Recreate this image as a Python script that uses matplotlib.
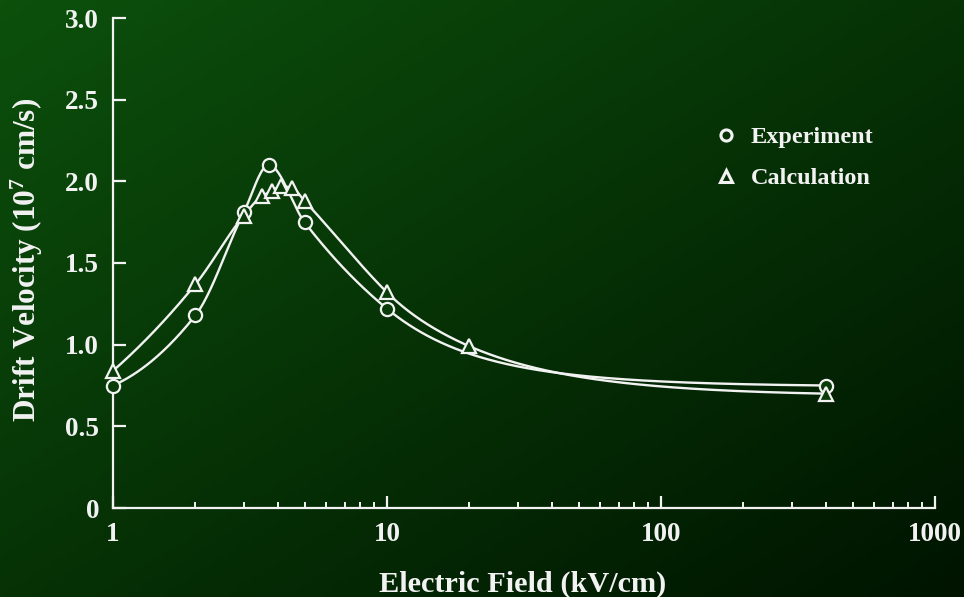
import numpy as np
import matplotlib
matplotlib.use("Agg")
import matplotlib.pyplot as plt
from matplotlib.lines import Line2D

# Drift velocity vs electric field
exp_field = [1, 2, 3, 3.7, 5, 10, 400]
exp_velocity = [0.75, 1.18, 1.81, 2.10, 1.75, 1.22, 0.75]

calc_field = [1, 2, 3, 3.5, 3.8, 4.1, 4.5, 5, 10, 20, 400]
calc_velocity = [0.84, 1.37, 1.79, 1.91, 1.94, 1.97, 1.96, 1.88, 1.32, 0.99, 0.70]

y_ticks = [0, 0.5, 1.0, 1.5, 2.0, 2.5, 3.0]
y_tick_labels = ["0", "0.5", "1.0", "1.5", "2.0", "2.5", "3.0"]
x_ticks = [1, 10, 100, 1000]
x_tick_labels = ["1", "10", "100", "1000"]

FG = "#f2f2f2"
FONT = "Liberation Serif"

plt.rcParams["mathtext.fontset"] = "custom"
plt.rcParams["mathtext.rm"] = "Liberation Serif:bold"
plt.rcParams["mathtext.default"] = "rm"


def warp(x):
    # log scale below 10 kV/cm, 1/E shape above (smooth join at 10)
    x = np.asarray(x, dtype=float)
    k = 0.4343
    return np.where(x <= 10, np.log10(x), 1 + k * (1 - 10 / x))


def pchip(w, y, wn):
    # monotone cubic (Fritsch-Carlson), used only for the connecting line
    w = np.asarray(w, float)
    y = np.asarray(y, float)
    h = np.diff(w)
    d = np.diff(y) / h
    n = len(w)
    m = np.zeros(n)
    for k in range(1, n - 1):
        if d[k - 1] * d[k] <= 0:
            m[k] = 0.0
        else:
            w1 = 2 * h[k] + h[k - 1]
            w2 = h[k] + 2 * h[k - 1]
            m[k] = (w1 + w2) / (w1 / d[k - 1] + w2 / d[k])
    # nearly straight start, like the hand-drawn curve
    m[0] = 2 * d[0] - m[1] if abs(2 * d[0] - m[1]) < abs(d[0]) else d[0]
    m[-1] = ((2 * h[-1] + h[-2]) * d[-1] - h[-1] * d[-2]) / (h[-1] + h[-2])
    if np.sign(m[-1]) != np.sign(d[-1]):
        m[-1] = 0
    idx = np.clip(np.searchsorted(w, wn) - 1, 0, n - 2)
    t = (wn - w[idx]) / h[idx]
    h00 = 2 * t**3 - 3 * t**2 + 1
    h10 = t**3 - 2 * t**2 + t
    h01 = -2 * t**3 + 3 * t**2
    h11 = t**3 - t**2
    return (h00 * y[idx] + h10 * h[idx] * m[idx]
            + h01 * y[idx + 1] + h11 * h[idx] * m[idx + 1])


def smooth(xs, ys):
    xn = np.logspace(np.log10(xs[0]), np.log10(xs[-1]), 600)
    return xn, pchip(warp(xs), ys, warp(xn))


fig = plt.figure(figsize=(9.64, 5.97), dpi=100)

# dark green diagonal gradient background
bg = fig.add_axes([0, 0, 1, 1], zorder=0)
gx, gy = np.meshgrid(np.linspace(0, 1, 200), np.linspace(0, 1, 120))
t = (gx + gy) / 2
c0 = np.array([12, 80, 12]) / 255
c1 = np.array([0, 20, 0]) / 255
img = c0[None, None, :] * (1 - t[..., None]) + c1[None, None, :] * t[..., None]
bg.imshow(img, aspect="auto", extent=[0, 1, 0, 1], origin="upper")
bg.axis("off")

ax = fig.add_axes([113 / 964, 1 - 508 / 597, (935 - 113) / 964, (508 - 18) / 597], zorder=1)
ax.patch.set_alpha(0)

ax.set_xscale("log")
ax.set_xlim(1, 1000)
ax.set_ylim(0, 3.0)

for s in ["top", "right"]:
    ax.spines[s].set_visible(False)
for s in ["left", "bottom"]:
    ax.spines[s].set_color(FG)
    ax.spines[s].set_linewidth(1.6)

xe, ye = smooth(exp_field, exp_velocity)
xc, yc = smooth(calc_field, calc_velocity)
ax.plot(xe, ye, color=FG, lw=1.7, zorder=2)
ax.plot(xc, yc, color=FG, lw=1.7, zorder=2)

ax.plot(exp_field, exp_velocity, "o", ms=9.5, mfc="#0a3c0a", mec=FG, mew=1.6,
        ls="none", zorder=3, clip_on=False)
ax.plot(calc_field, calc_velocity, "^", ms=9.5, mfc="#0a3c0a", mec=FG, mew=1.6,
        ls="none", zorder=3, clip_on=False)

ax.set_yticks(y_ticks)
ax.set_yticklabels(y_tick_labels)
ax.set_xticks(x_ticks)
ax.set_xticklabels(x_tick_labels)
ax.yaxis.set_minor_locator(matplotlib.ticker.NullLocator())
ax.xaxis.set_minor_locator(matplotlib.ticker.LogLocator(base=10, subs=np.arange(2, 10)))
ax.xaxis.set_minor_formatter(matplotlib.ticker.NullFormatter())

ax.tick_params(which="major", direction="in", length=9, width=1.6, color=FG,
               labelcolor=FG, labelsize=19.5, pad=10)
ax.tick_params(which="minor", direction="in", length=4.5, width=1.4, color=FG)
for lab in ax.get_xticklabels() + ax.get_yticklabels():
    lab.set_fontfamily(FONT)
    lab.set_fontweight("bold")

fig.text(523 / 964, 1 - 584 / 597, "Electric Field (kV/cm)", ha="center", va="center",
         color=FG, fontsize=21.8, fontweight="bold", family=FONT)
fig.text(27 / 964, 1 - 260 / 597, r"Drift Velocity (10$^{7}$ cm/s)", ha="center",
         va="center", rotation=90, color=FG, fontsize=22.5, fontweight="bold", family=FONT)

handles = [
    Line2D([], [], marker="o", ls="none", ms=8, mfc="none", mec=FG, mew=2.2),
    Line2D([], [], marker="^", ls="none", ms=8.5, mfc="none", mec=FG, mew=2.2),
]
leg = ax.legend(handles, ["Experiment", "Calculation"], loc="upper left",
                bbox_to_anchor=(714 / 964, 1 - 126 / 597), bbox_transform=fig.transFigure,
                frameon=False, handlelength=1.0, handletextpad=0.5, borderpad=0,
                borderaxespad=0, labelspacing=0.8,
                prop={"family": FONT, "weight": "bold", "size": 17.5})
for txt in leg.get_texts():
    txt.set_color(FG)

fig.savefig("out.png", dpi=100)
